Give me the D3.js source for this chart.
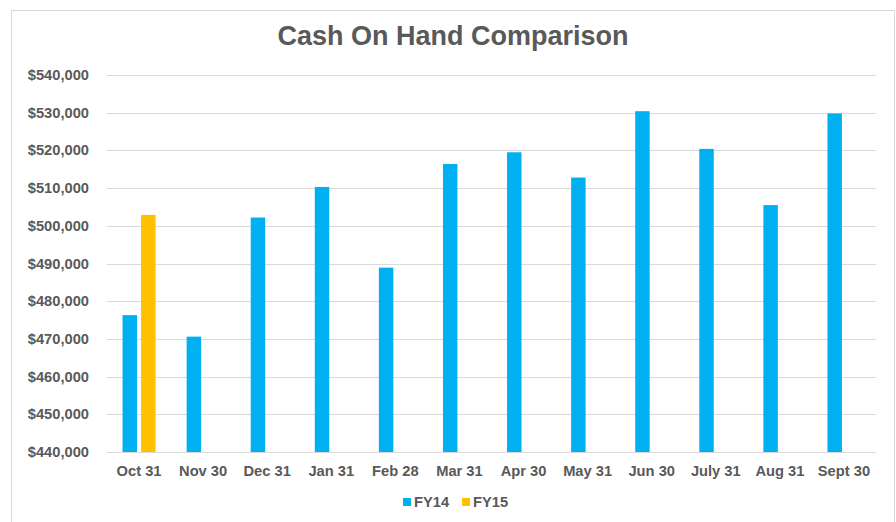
<!DOCTYPE html>
<html>
<head>
<meta charset="utf-8">
<script src="https://cdn.jsdelivr.net/npm/d3@7"></script>
<style>
  body { margin: 0; background: #fff; }
  text { font-family: "Liberation Sans", Arial, sans-serif; font-weight: bold; fill: #595959; }
</style>
</head>
<body>
<svg id="chart" width="896" height="522"></svg>
<script>
const months = ['Oct 31', 'Nov 30', 'Dec 31', 'Jan 31', 'Feb 28', 'Mar 31',
    'Apr 30', 'May 31', 'Jun 30', 'July 31', 'Aug 31', 'Sept 30'];
const seriesNames = ['FY14', 'FY15'];
const fy14 = [476300, 470600, 502200, 510300, 488900, 516400,
    519500, 512800, 530400, 520400, 505500, 529800];
const fy15 = [502900, null, null, null, null, null,
    null, null, null, null, null, null];
const yTicks = [440000, 450000, 460000, 470000, 480000, 490000,
    500000, 510000, 520000, 530000, 540000];
const colors = { FY14: '#00B0F0', FY15: '#FFC000' };

const svg = d3.select('#chart');
const margins = { top: 75, right: 20, bottom: 70, left: 107 };
const plotRight = 876, plotBottom = 452;
const labelSize = '14.7px';

// chart frame
svg.append('rect')
    .attr('x', 11.5).attr('y', 10.5)
    .attr('width', 883).attr('height', 530)
    .attr('fill', 'none')
    .attr('stroke', '#d9d9d9');

const x0 = d3.scaleBand()
    .domain(months)
    .range([margins.left, plotRight])
    .paddingInner(0.485)
    .paddingOuter(0.2425);

const x1 = d3.scaleBand()
    .domain(seriesNames)
    .range([0, x0.bandwidth()])
    .paddingInner(0.22);

const y = d3.scaleLinear()
    .domain([440000, 540000])
    .range([plotBottom, margins.top]);

// gridlines
svg.append('g')
    .selectAll('line')
    .data(yTicks)
    .join('line')
    .attr('x1', margins.left)
    .attr('x2', plotRight)
    .attr('y1', d => Math.round(y(d)) + 0.5)
    .attr('y2', d => Math.round(y(d)) + 0.5)
    .attr('stroke', '#d9d9d9');

// y axis labels
const fmt = d3.format('$,.0f');
svg.append('g')
    .selectAll('text')
    .data(yTicks)
    .join('text')
    .attr('x', 89)
    .attr('y', d => y(d) + 5)
    .attr('text-anchor', 'end')
    .attr('font-size', labelSize)
    .text(d => fmt(d));

// bars
const rows = months.map((m, i) => ({ month: m, FY14: fy14[i], FY15: fy15[i] }));

const groups = svg.append('g')
    .selectAll('g')
    .data(rows)
    .join('g')
    .attr('transform', d => `translate(${x0(d.month)},0)`);

groups.selectAll('rect')
    .data(d => seriesNames.filter(s => d[s] != null).map(s => ({ key: s, value: d[s] })))
    .join('rect')
    .attr('x', d => x1(d.key))
    .attr('width', x1.bandwidth())
    .attr('y', d => y(d.value))
    .attr('height', d => plotBottom - y(d.value))
    .attr('fill', d => colors[d.key]);

// x axis labels
svg.append('g')
    .selectAll('text')
    .data(months)
    .join('text')
    .attr('x', d => x0(d) + x0.bandwidth() / 2)
    .attr('y', 476)
    .attr('text-anchor', 'middle')
    .attr('font-size', labelSize)
    .text(d => d);

// title
svg.append('text')
    .attr('x', 453)
    .attr('y', 45)
    .attr('text-anchor', 'middle')
    .attr('font-size', '27px')
    .text('Cash On Hand Comparison');

// legend
const legendX = [403, 462];
const legend = svg.append('g')
    .selectAll('g')
    .data(seriesNames)
    .join('g')
    .attr('transform', (d, i) => `translate(${legendX[i]},498)`);

legend.append('rect')
    .attr('width', 8).attr('height', 8)
    .attr('fill', d => colors[d]);

legend.append('text')
    .attr('x', 11)
    .attr('y', 9)
    .attr('font-size', labelSize)
    .text(d => d);
</script>
</body>
</html>
